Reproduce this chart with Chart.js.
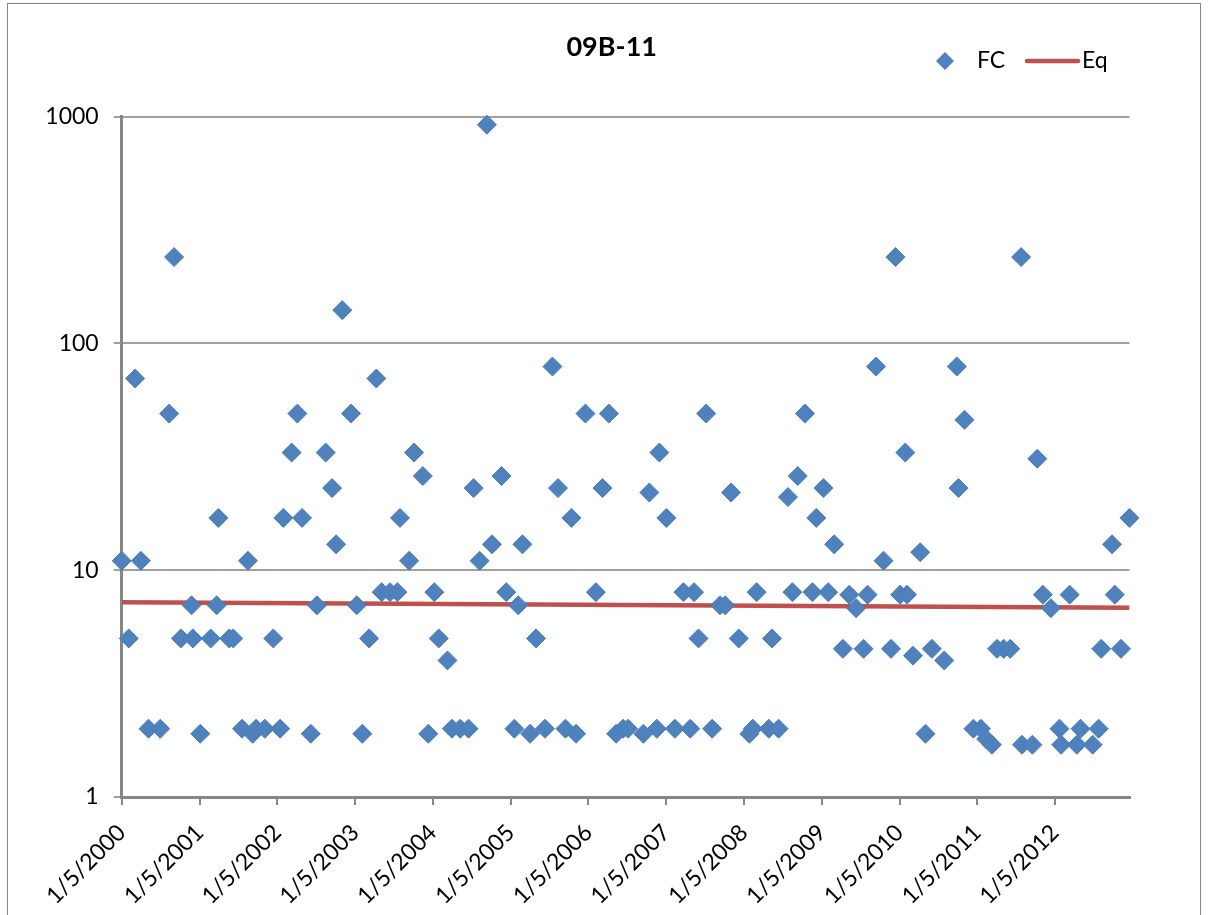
<!DOCTYPE html>
<html>
<head>
<meta charset="utf-8">
<title>09B-11</title>
<script src="https://cdn.jsdelivr.net/npm/chart.js@4.4.1/dist/chart.umd.min.js"></script>
<style>
  body { margin: 0; background: #fff; }
  canvas { display: block; }
</style>
</head>
<body>
<canvas id="chart" width="1210" height="915"></canvas>
<script>
// station 09B-11 : fecal coliform samples + fitted trend
const fcDates = [
  '2000-01-05','2000-02-07','2000-03-08','2000-04-04','2000-05-10','2000-07-04','2000-08-15','2000-09-07','2000-10-09','2000-11-28','2000-12-04',
  '2001-01-08','2001-02-26','2001-03-26','2001-04-03','2001-05-24','2001-06-12','2001-07-23','2001-08-20','2001-09-11','2001-09-27','2001-11-07','2001-12-17',
  '2002-01-18','2002-02-02','2002-03-13','2002-04-09','2002-05-01','2002-06-11','2002-07-10','2002-08-20','2002-09-19','2002-10-08','2002-11-06','2002-12-17',
  '2003-01-13','2003-02-08','2003-03-12','2003-04-15','2003-05-10','2003-06-18','2003-07-23','2003-08-04','2003-09-16','2003-10-09','2003-11-19','2003-12-15',
  '2004-01-12','2004-02-02','2004-03-14','2004-04-04','2004-05-13','2004-06-21','2004-07-15','2004-08-12','2004-09-15','2004-10-09','2004-11-23','2004-12-15',
  '2005-01-22','2005-02-09','2005-03-01','2005-04-06','2005-05-04','2005-06-15','2005-07-20','2005-08-15','2005-09-19','2005-10-17','2005-11-08','2005-12-22',
  '2006-02-09','2006-03-12','2006-04-11','2006-05-15','2006-06-17','2006-07-10','2006-09-20','2006-10-18','2006-11-22','2006-12-04',
  '2007-01-06','2007-02-15','2007-03-27','2007-04-28','2007-05-16','2007-06-06','2007-07-12','2007-08-09','2007-09-15','2007-10-09','2007-11-06','2007-12-12',
  '2008-01-31','2008-02-16','2008-03-05','2008-05-01','2008-05-16','2008-06-16','2008-07-30','2008-08-20','2008-09-14','2008-10-18','2008-11-22','2008-12-10',
  '2009-01-13','2009-02-04','2009-03-04','2009-04-14','2009-05-14','2009-06-15','2009-07-20','2009-08-08','2009-09-17','2009-10-22','2009-11-26','2009-12-17',
  '2010-01-08','2010-02-01','2010-02-09','2010-03-09','2010-04-12','2010-05-07','2010-06-06','2010-08-03','2010-10-01','2010-10-09','2010-11-06','2010-12-18',
  '2011-01-22','2011-02-16','2011-03-15','2011-04-08','2011-05-09','2011-06-09','2011-07-30','2011-08-03','2011-09-21','2011-10-14','2011-11-09','2011-12-17',
  '2012-01-26','2012-02-03','2012-03-14','2012-04-17','2012-05-04','2012-06-30','2012-07-28','2012-08-09','2012-09-29','2012-10-12','2012-11-10','2012-12-20'
]
const fcValues = [
  11, 5, 70, 11, 2, 2, 49, 240, 5, 7, 5,
  1.9, 5, 7, 17, 5, 5, 2, 11, 1.9, 2, 2, 5,
  2, 17, 33, 49, 17, 1.9, 7, 33, 23, 13, 140, 49,
  7, 1.9, 5, 70, 8, 8, 8, 17, 11, 33, 26, 1.9,
  8, 5, 4, 2, 2, 2, 23, 11, 920, 13, 26, 8,
  2, 7, 13, 1.9, 5, 2, 79, 23, 2, 17, 1.9, 49,
  8, 23, 49, 1.9, 2, 2, 1.9, 22, 2, 33,
  17, 2, 8, 2, 8, 5, 49, 2, 7, 7, 22, 5,
  1.9, 2, 8, 2, 5, 2, 21, 8, 26, 49, 8, 17,
  23, 8, 13, 4.5, 7.8, 6.8, 4.5, 7.8, 79, 11, 4.5, 240,
  7.8, 33, 7.8, 4.2, 12, 1.9, 4.5, 4, 79, 23, 46, 2,
  2, 1.8, 1.7, 4.5, 4.5, 4.5, 240, 1.7, 1.7, 31, 7.8, 6.8,
  2, 1.7, 7.8, 1.7, 2, 1.7, 2, 4.5, 13, 7.8, 4.5, 17
]

// trend line end points
const eqDates = ['2000-01-05', '2012-12-20']
const eqValues = [7.22, 6.83]

const xTickLabels = ['1/5/2000','1/5/2001','1/5/2002','1/5/2003','1/5/2004','1/5/2005','1/5/2006',
  '1/5/2007','1/5/2008','1/5/2009','1/5/2010','1/5/2011','1/5/2012']
const yTicks = [1, 10, 100, 1000]

const chartTitle = '09B-11'
const fcColor = '#4F81BD'
const eqColor = '#C0504D'
const axisGray = '#868686'
const fontFamily = 'Lato, "Open Sans", sans-serif'

function isoToTime(s) {
  return Date.parse(s + 'T00:00:00Z')
}
function mdyToTime(s) {
  const p = s.split('/')
  return Date.UTC(+p[2], +p[0] - 1, +p[1])
}

const fcPoints = fcDates.map((d, i) => ({ x: isoToTime(d), y: fcValues[i] }))
const eqPoints = eqDates.map((d, i) => ({ x: isoToTime(d), y: eqValues[i] }))
const xTickValues = xTickLabels.map(mdyToTime)

// outer frame, title and the small legend (diamond / red line)
const chartDecor = {
  id: 'chartDecor',
  beforeDraw(chart) {
    const ctx = chart.ctx
    ctx.save()
    ctx.fillStyle = '#fff'
    ctx.fillRect(0, 0, chart.width, chart.height)
    ctx.strokeStyle = axisGray
    ctx.lineWidth = 1
    ctx.strokeRect(7.5, 3.5, 1193, 1000)
    ctx.restore()
  },
  afterDraw(chart) {
    const ctx = chart.ctx
    const cy = 61
    ctx.save()
    ctx.fillStyle = '#000'
    ctx.font = 'bold 27px ' + fontFamily
    ctx.textAlign = 'center'
    ctx.textBaseline = 'middle'
    ctx.fillText(chartTitle, 611.7, 47.7)

    ctx.fillStyle = fcColor
    ctx.beginPath()
    ctx.moveTo(945, cy - 9)
    ctx.lineTo(954, cy)
    ctx.lineTo(945, cy + 9)
    ctx.lineTo(936, cy)
    ctx.closePath()
    ctx.fill()

    ctx.strokeStyle = eqColor
    ctx.lineWidth = 4.5
    ctx.lineCap = 'round'
    ctx.beginPath()
    ctx.moveTo(1027, cy)
    ctx.lineTo(1078, cy)
    ctx.stroke()

    ctx.fillStyle = '#000'
    ctx.font = '23px ' + fontFamily
    ctx.textAlign = 'left'
    ctx.fillText('FC', 977, cy)
    ctx.fillText('Eq', 1082, cy)
    ctx.restore()
  }
}

const tickFont = { family: fontFamily, size: 23 }

new Chart(document.getElementById('chart'), {
  type: 'scatter',
  data: {
    datasets: [
      {
        label: 'FC',
        data: fcPoints,
        order: 0,
        pointStyle: 'rectRot',
        pointRadius: 9.5,
        pointBackgroundColor: fcColor,
        pointBorderColor: '#4A7EBB',
        pointBorderWidth: 1,
        clip: false
      },
      {
        label: 'Eq',
        data: eqPoints,
        order: 1,
        showLine: true,
        borderColor: eqColor,
        borderWidth: 4.5,
        pointRadius: 0,
        fill: false
      }
    ]
  },
  options: {
    responsive: false,
    animation: false,
    layout: { padding: { top: 116.5, left: 0, right: 80.5, bottom: 0 } },
    plugins: {
      legend: { display: false },
      tooltip: { enabled: false },
      title: { display: false }
    },
    scales: {
      x: {
        type: 'linear',
        min: xTickValues[0],
        max: isoToTime(fcDates[fcDates.length - 1]),
        afterBuildTicks: s => { s.ticks = xTickValues.map(v => ({ value: v })) },
        afterFit: s => { s.height = 118 },
        ticks: {
          autoSkip: false,
          minRotation: 45,
          maxRotation: 45,
          padding: 14,
          color: '#000',
          font: tickFont,
          callback: (v, i) => xTickLabels[i]
        },
        grid: { drawOnChartArea: false, color: axisGray, lineWidth: 2, tickLength: 8 },
        border: { color: axisGray, width: 3 }
      },
      y: {
        type: 'logarithmic',
        min: 1,
        max: 1000,
        afterBuildTicks: s => { s.ticks = yTicks.map(v => ({ value: v })) },
        afterFit: s => { s.width = 121.7 },
        ticks: {
          padding: 15,
          color: '#000',
          font: tickFont,
          callback: v => String(v)
        },
        grid: { color: '#a0a0a0', lineWidth: 2, tickLength: 8 },
        border: { color: axisGray, width: 3 }
      }
    }
  },
  plugins: [chartDecor]
})
</script>
</body>
</html>
